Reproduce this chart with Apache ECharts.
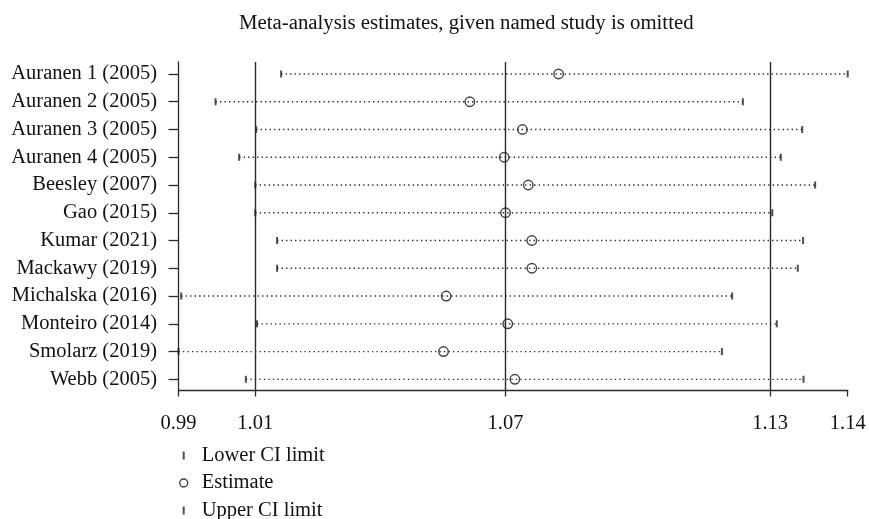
<!DOCTYPE html>
<html>
<head>
<meta charset="utf-8">
<title>Meta-analysis estimates, given named study is omitted</title>
<script src="https://cdn.jsdelivr.net/npm/echarts@6/dist/echarts.min.js"></script>
<style>
  html, body { margin: 0; padding: 0; background: #ffffff; }
  #chart { width: 869px; height: 519px; }
</style>
</head>
<body>
<div id="chart"></div>
<script>
// Leave-one-out sensitivity analysis: pooled estimate with each study omitted
var studies = [
  'Auranen 1 (2005)', 'Auranen 2 (2005)', 'Auranen 3 (2005)', 'Auranen 4 (2005)',
  'Beesley (2007)', 'Gao (2015)', 'Kumar (2021)', 'Mackawy (2019)',
  'Michalska (2016)', 'Monteiro (2014)', 'Smolarz (2019)', 'Webb (2005)'
];
var lowerCI  = [1.0160, 1.0013, 1.0104, 1.0066, 1.0102, 1.0102, 1.0151, 1.0151, 0.9936, 1.0106, 0.9930, 1.0081];
var estimate = [1.0782, 1.0583, 1.0701, 1.0660, 1.0714, 1.0663, 1.0722, 1.0722, 1.0530, 1.0668, 1.0524, 1.0684];
var upperCI  = [1.1430, 1.1195, 1.1328, 1.1280, 1.1357, 1.1261, 1.1330, 1.1318, 1.1171, 1.1271, 1.1148, 1.1331];

// Pooled result with all studies: lower CI, estimate, upper CI
var pooled = [1.0102, 1.0663, 1.1256];

var xMin = Math.min.apply(null, lowerCI);
var xMax = Math.max.apply(null, upperCI);
var xTickValues = [xMin, pooled[0], pooled[1], pooled[2], xMax];
var xTickLabels = ['0.99', '1.01', '1.07', '1.13', '1.14'];

var rows = studies.map(function (s, i) { return i + 1; });

var FONT = '"Liberation Serif", "DejaVu Serif", serif';
var INK = '#2a2a2a';
var TICK_PATH = 'path://M0,0h1v10h-1z';
var LEGEND_TICK = 'path://M0,0h2v8h-2z';
var hollowCircle = { color: 'rgba(0,0,0,0)', borderColor: '#111', borderWidth: 1.4 };

var chart = echarts.init(document.getElementById('chart'), null, { renderer: 'canvas' });

chart.setOption({
  animation: false,
  backgroundColor: '#ffffff',
  title: {
    text: 'Meta-analysis estimates, given named study is omitted',
    left: 234,
    top: 8,
    textStyle: { fontFamily: FONT, fontSize: 20.8, fontWeight: 'normal', color: '#111' }
  },
  legend: {
    orient: 'vertical',
    left: 179,
    top: 445,
    height: 80,
    padding: 0,
    itemWidth: 10,
    itemHeight: 8,
    itemGap: 6.5,
    textStyle: { fontFamily: FONT, fontSize: 20.5, color: '#111', padding: [0, 0, 0, 8] },
    data: [
      { name: 'Lower CI limit', icon: LEGEND_TICK, itemStyle: { color: '#222' } },
      { name: 'Estimate', icon: 'circle', itemStyle: hollowCircle },
      { name: 'Upper CI limit', icon: LEGEND_TICK, itemStyle: { color: '#222' } }
    ]
  },
  grid: { left: 178.5, right: 21.3, top: 62, bottom: 129, containLabel: false },
  xAxis: {
    type: 'value',
    min: xMin,
    max: xMax,
    axisLine: { show: true, lineStyle: { color: INK, width: 1.3 } },
    axisTick: { show: true, customValues: xTickValues, length: 6.5, lineStyle: { color: INK, width: 1.3 } },
    axisLabel: {
      customValues: xTickValues,
      margin: 23,
      fontFamily: FONT, fontSize: 20.5, color: '#111',
      formatter: function (v) {
        var best = 0;
        for (var i = 1; i < xTickValues.length; i++) {
          if (Math.abs(xTickValues[i] - v) < Math.abs(xTickValues[best] - v)) best = i;
        }
        return xTickLabels[best];
      }
    },
    splitLine: { show: false }
  },
  yAxis: {
    type: 'value',
    inverse: true,
    min: 0.568,
    max: 12.386,
    axisLine: { show: true, lineStyle: { color: INK, width: 1.3 } },
    axisTick: { show: true, customValues: rows, length: 10, lineStyle: { color: INK, width: 1.3 } },
    axisLabel: {
      customValues: rows,
      margin: 21.5,
      fontFamily: FONT, fontSize: 20.5, color: '#111',
      formatter: function (v) { return studies[Math.round(v) - 1]; }
    },
    splitLine: { show: false }
  },
  series: [
    {
      // dotted span from lower to upper confidence limit
      type: 'custom',
      name: 'CI span',
      silent: true,
      encode: { x: [0, 2], y: 1 },
      data: studies.map(function (s, i) { return [lowerCI[i], i + 1, upperCI[i]]; }),
      renderItem: function (params, api) {
        var y = api.value(1);
        var p1 = api.coord([api.value(0), y]);
        var p2 = api.coord([api.value(2), y]);
        return {
          type: 'line',
          shape: { x1: p1[0], y1: p1[1], x2: p2[0], y2: p2[1] },
          style: { stroke: '#222', lineWidth: 1.3, lineDash: [1.3, 3.2] }
        };
      }
    },
    {
      type: 'scatter',
      name: 'Lower CI limit',
      symbol: TICK_PATH,
      symbolSize: [2, 7],
      itemStyle: { color: '#222' },
      data: studies.map(function (s, i) { return [lowerCI[i], i + 1]; })
    },
    {
      type: 'scatter',
      name: 'Upper CI limit',
      symbol: TICK_PATH,
      symbolSize: [2, 7],
      itemStyle: { color: '#222' },
      data: studies.map(function (s, i) { return [upperCI[i], i + 1]; })
    },
    {
      type: 'scatter',
      name: 'Estimate',
      symbol: 'circle',
      symbolSize: 9.5,
      itemStyle: hollowCircle,
      data: studies.map(function (s, i) { return [estimate[i], i + 1]; }),
      markLine: {
        silent: true,
        precision: 6,
        symbol: 'none',
        label: { show: false },
        lineStyle: { type: 'solid', color: INK, width: 1.4 },
        data: pooled.map(function (v) { return { xAxis: v }; })
      }
    }
  ]
});
</script>
</body>
</html>
